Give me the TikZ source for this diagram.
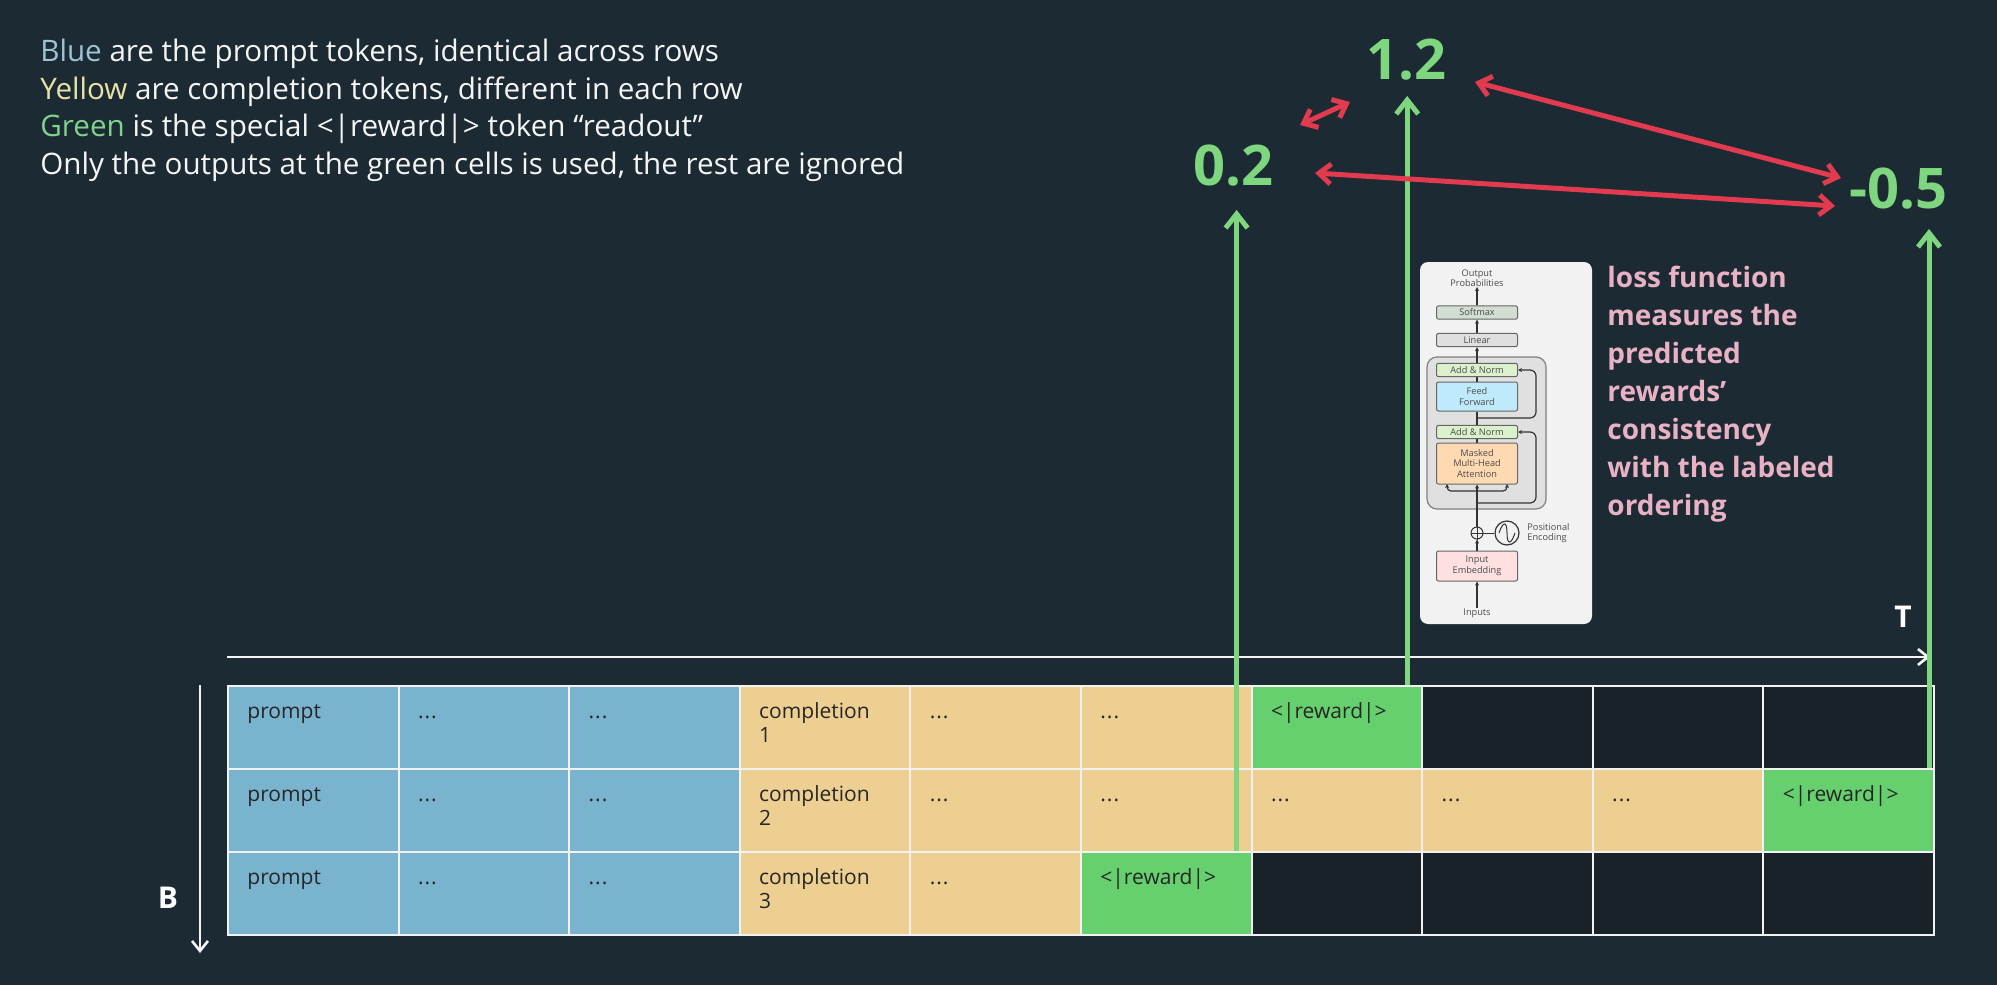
\documentclass[tikz,border=0pt]{standalone}
\usepackage{fontspec}
\setmainfont{Open Sans}
\usetikzlibrary{arrows.meta}
\definecolor{bg}{HTML}{1C2A33}
\definecolor{cblue}{HTML}{79B3CE}
\definecolor{cyel}{HTML}{EDCF91}
\definecolor{cgreen}{HTML}{66D06E}
\definecolor{cblack}{HTML}{182228}
\definecolor{tblue}{HTML}{9CC3D6}
\definecolor{tyel}{HTML}{E8E2A8}
\definecolor{tgreen}{HTML}{7FD38A}
\definecolor{gnum}{HTML}{7ED67E}
\definecolor{pinkt}{HTML}{E9B2C4}
\definecolor{redar}{HTML}{E23A4E}
\newcommand\mydd{.\kern0.5pt.\kern0.5pt.}
\newcommand\myrw{<|reward|>}
\begin{document}
\begin{tikzpicture}[x=0.5pt,y=-0.5pt,
  cell/.style={draw=white!90!gray,line width=1pt,minimum width=85.3pt,minimum height=41.5pt,inner sep=0pt,anchor=north west},
  ctext/.style={anchor=north west,text=black!85,font=\fontsize{10.5}{12}\selectfont,align=left,inner sep=0pt},
  head/.style={anchor=west,text=white!92!gray,font=\fontsize{14.8}{17}\selectfont,inner sep=0pt},
  num/.style={text=gnum,font=\fontsize{28}{30}\selectfont\bfseries,inner sep=0pt},
  garr/.style={draw=gnum,line width=2.5pt,-{Straight Barb[length=7pt,width=11pt]}},
  rarr/.style={draw=redar,line width=2.5pt,{Straight Barb[length=6pt,width=10pt]}-{Straight Barb[length=6pt,width=10pt]}},
  axis/.style={draw=white!92!gray,line width=1.3pt},
  lbl/.style={text=white,font=\fontsize{15}{17}\selectfont\bfseries,inner sep=0pt},
  tf/.style={draw=black!60,line width=0.5pt,rounded corners=1pt,fill=#1},
  tt/.style={font=\fontsize{4.6}{5.2}\selectfont,text=black!70,align=center,inner sep=0pt},
  tarr/.style={draw=black!80,line width=0.6pt,-{Stealth[length=2pt,width=2pt]}}
]
\useasboundingbox (0,0) rectangle (1997,985);
\fill[bg] (0,0) rectangle (1997,985);

% heading
\node[head] (h1) at (40,54) {\textcolor{tblue}{Blue} are the prompt tokens, identical across rows};
\node[head] (h2) at (40,92) {\textcolor{tyel}{Yellow} are completion tokens, different in each row};
\node[head] (h3) at (40,129) {\textcolor{tgreen}{Green} is the special <|reward|> token “readout”};
\node[head] (h4) at (40,167) {Only the outputs at the green cells is used, the rest are ignored};

% grid
\def\cw{170.6}
\foreach \r/\y in {1/685,2/768,3/851}{
  \foreach \c in {1,2,3,4,5,6,7,8,9,10}{
    \pgfmathsetmacro\xx{227+(\c-1)*\cw}
    \coordinate (p-\r-\c) at (\xx,\y);
  }
}
\foreach \r/\list in {
 1/{cblue/prompt,cblue/\mydd,cblue/\mydd,cyel/completion\\1,cyel/\mydd,cyel/\mydd,cgreen/\myrw,cblack/,cblack/,cblack/},
 2/{cblue/prompt,cblue/\mydd,cblue/\mydd,cyel/completion\\2,cyel/\mydd,cyel/\mydd,cyel/\mydd,cyel/\mydd,cyel/\mydd,cgreen/\myrw},
 3/{cblue/prompt,cblue/\mydd,cblue/\mydd,cyel/completion\\3,cyel/\mydd,cgreen/\myrw,cblack/,cblack/,cblack/,cblack/}}{
  \foreach \k/\t [count=\c] in \list {
    \node[cell,fill=\k] (c-\r-\c) at (p-\r-\c) {};
    \node[ctext] (t-\r-\c) at ([xshift=10pt,yshift=-8pt]c-\r-\c.north west) {\strut\t};
  }
}

% axes
\coordinate (ta) at (227,657);
\coordinate (tb) at (1930,657);
\draw[axis,-{Straight Barb[length=5pt,width=8pt]}] (ta) -- (tb);
\node[lbl] (T) at (1903,617) {T};
\coordinate (ba) at (200,685);
\coordinate (bb) at (200,953);
\draw[axis,-{Straight Barb[length=5pt,width=8pt]}] (ba) -- (bb);
\node[lbl] (B) at (168,898) {B};

% numbers
\node[num] (n02) at (1233,166) {0.2};
\node[num] (n12) at (1406,60) {1.2};
\node[num] (n05) at (1898,189) {-0.5};

% green arrows
\draw[garr] (c-3-6.north east) ++(-16,0) coordinate (g3) -- (g3 |- 0,210);
\draw[garr] (c-1-7.north east) ++(-16,0) coordinate (g1) -- (g1 |- 0,96);
\draw[garr] (c-2-10.north east) ++(-6,0) coordinate (g2) -- (g2 |- 0,229);

% red arrows
\coordinate (r1) at (1300,125); \coordinate (r2) at (1350,102);
\coordinate (r3) at (1475,82); \coordinate (r4) at (1841,178);
\coordinate (r5) at (1315,173); \coordinate (r6) at (1835,206);
\draw[rarr] (r1) -- (r2);
\draw[rarr] (r3) -- (r4);
\draw[rarr] (r5) -- (r6);

% loss text
\node[anchor=north west,text=pinkt,font=\fontsize{14}{19}\selectfont\bfseries,align=left,inner sep=0pt] (loss) at (1607,266)
 {loss function\\measures the\\predicted\\rewards’\\consistency\\with the labeled\\ordering};

% transformer
\fill[black!5,rounded corners=4pt] (1420,262) rectangle (1592,624);
\draw[black!50,line width=0.6pt,rounded corners=5pt,fill=black!12] (1427,357) rectangle (1546,509);
\node[tt] (op) at (1477,278) {Output\\Probabilities};
\node[tf=green!15!gray!30,minimum width=40.5pt,minimum height=6.5pt] (sm) at (1477,312.5) {};
\node[tt] at (sm) {Softmax};
\node[tf=gray!25,minimum width=40.5pt,minimum height=6pt] (lin) at (1477,340) {};
\node[tt] at (lin) {Linear};
\node[tf=yellow!30!green!20,minimum width=40.5pt,minimum height=6pt] (an1) at (1477,370) {};
\node[tt] at (an1) {Add \& Norm};
\node[tf=cyan!25,minimum width=40.5pt,minimum height=14.5pt] (ff) at (1477,396.5) {};
\node[tt] at (ff) {Feed\\Forward};
\node[tf=yellow!30!green!20,minimum width=40.5pt,minimum height=6pt] (an2) at (1477,432) {};
\node[tt] at (an2) {Add \& Norm};
\node[tf=orange!30,minimum width=40.5pt,minimum height=20.5pt] (mh) at (1477,463.5) {};
\node[tt] at (mh) {Masked\\Multi-Head\\Attention};
\node[draw=black!80,circle,line width=0.5pt,minimum size=6pt,inner sep=0pt] (pl) at (1477,533) {};
\draw[black!80,line width=0.5pt] (pl.north)--(pl.south) (pl.west)--(pl.east);
\node[draw=black!80,circle,line width=0.6pt,minimum size=12pt,inner sep=0pt] (sin) at (1507,533) {};
\draw[black!80,line width=0.5pt] ([xshift=-4pt]sin.center) .. controls ([xshift=-2pt,yshift=6pt]sin.center) and ([yshift=6pt]sin.center) .. (sin.center) .. controls ([yshift=-6pt]sin.center) and ([xshift=2pt,yshift=-6pt]sin.center) .. ([xshift=4pt]sin.center);
\draw[black!80,line width=0.5pt] (sin) -- (pl);
\node[tt,align=left,anchor=west] (pe) at (1527,533) {Positional\\Encoding};
\node[tf=red!12,minimum width=40.5pt,minimum height=15pt] (ie) at (1477,566) {};
\node[tt] at (ie) {Input\\Embedding};
\node[tt] (inp) at (1477,613) {Inputs};
\draw[tarr] (inp) -- (ie);
\draw[tarr] (ie) -- (pl);
\draw[tarr] (pl) -- (mh);
\draw[black!80,line width=0.6pt] (an1) -- (ff) (an2) -- (mh) (ff) -- (an2);
\draw[tarr] (an1) -- (lin);
\draw[tarr] (lin) -- (sm);
\draw[tarr] (sm) -- (op);
\coordinate (f1) at (1477,491);
\draw[tarr,rounded corners=2pt] (f1) -| (1447,484);
\draw[tarr,rounded corners=2pt] (f1) -| (1507,484);
\draw[tarr,rounded corners=3pt] (1477,503) -| (1536,432) -- (an2.east);
\draw[tarr,rounded corners=3pt] (1477,418) -| (1536,370) -- (an1.east);
\end{tikzpicture}
\end{document}
